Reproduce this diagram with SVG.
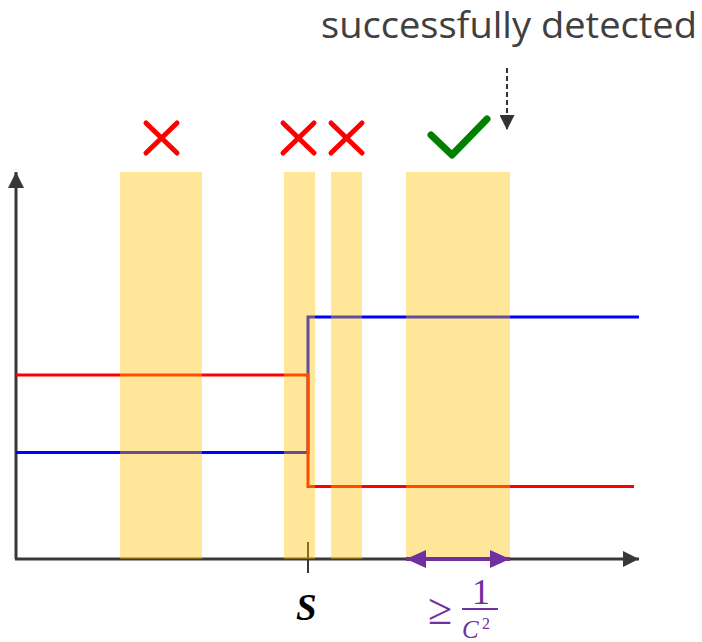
<svg xmlns="http://www.w3.org/2000/svg" width="702" height="642" viewBox="0 0 702 642">
<style>
.axis{stroke:#383838;stroke-width:3;fill:none}
.bar{fill:#FFC000;fill-opacity:0.4}
.xmark{stroke:#FF0000;stroke-width:5;stroke-linecap:round;fill:none}
.math{font-family:"Liberation Serif",serif}
</style>
<defs>
<marker id="ah" viewBox="0 0 10 10" refX="10" refY="5" markerWidth="16" markerHeight="16" markerUnits="userSpaceOnUse" orient="auto"><path d="M0,0 L10,5 L0,10 Z" fill="#383838"/></marker>
<marker id="dh" viewBox="0 0 10 10" refX="10" refY="5" markerWidth="15" markerHeight="15" markerUnits="userSpaceOnUse" orient="auto"><path d="M0,0 L10,5 L0,10 Z" fill="#333"/></marker>
<marker id="ph" viewBox="0 0 10 10" refX="10" refY="5" markerWidth="20" markerHeight="18" markerUnits="userSpaceOnUse" orient="auto-start-reverse" preserveAspectRatio="none"><path d="M0,0 L10,5 L0,10 Z" fill="#7030A0"/></marker>
</defs>
<g id="axes">
<line class="axis" x1="16" y1="559" x2="16" y2="172" marker-end="url(#ah)"/>
<line class="axis" x1="15" y1="559" x2="639" y2="559" marker-end="url(#ah)"/>
<line x1="308" y1="542" x2="308" y2="573" stroke="#383838" stroke-width="2"/>
</g>
<g id="signals">
<polyline points="16,452.5 308,452.5 308,317 639,317" fill="none" stroke="#0000FF" stroke-width="3"/>
<polyline points="16,375 308,375 308,486.5 634,486.5" fill="none" stroke="#FF0000" stroke-width="3"/>
</g>
<g id="windows">
<rect class="bar" x="120" y="172" width="82" height="387"/>
<rect class="bar" x="284" y="172" width="31" height="387"/>
<rect class="bar" x="331" y="172" width="31" height="387"/>
<rect class="bar" x="406" y="172" width="104" height="387"/>
</g>
<g id="marks">
<path class="xmark" d="M146,123 L177,153 M177,123 L146,153"/>
<path class="xmark" d="M283,123 L314,153 M314,123 L283,153"/>
<path class="xmark" d="M331,123 L362,153 M362,123 L331,153"/>
<path d="M431,135 L452,155 L487,119" fill="none" stroke="#008000" stroke-width="7" stroke-linecap="round" stroke-linejoin="round"/>
</g>
<g id="label-detected">
<text x="321" y="38" textLength="376" lengthAdjust="spacingAndGlyphs" font-family="'Open Sans',sans-serif" font-size="36" fill="#404040">successfully detected</text>
</g>
<g id="connectors">
<line x1="507" y1="68" x2="507" y2="130" stroke="#333" stroke-width="2" stroke-dasharray="5,3" marker-end="url(#dh)"/>
<line x1="406" y1="559" x2="510" y2="559" stroke="#7030A0" stroke-width="4" marker-start="url(#ph)" marker-end="url(#ph)"/>
</g>
<g id="label-s">
<text x="296" y="620" class="math" font-style="italic" font-weight="bold" font-size="37" fill="#000">S</text>
</g>
<g id="label-width" class="math" fill="#7030A0">
<text x="428" y="624" font-size="44">≥</text>
<text x="481" y="604" font-size="36" text-anchor="middle">1</text>
<line x1="462" y1="609" x2="498" y2="609" stroke="#7030A0" stroke-width="2"/>
<text x="462" y="638" font-size="25" font-style="italic">C</text>
<text x="482" y="629" font-size="16">2</text>
</g>
</svg>
